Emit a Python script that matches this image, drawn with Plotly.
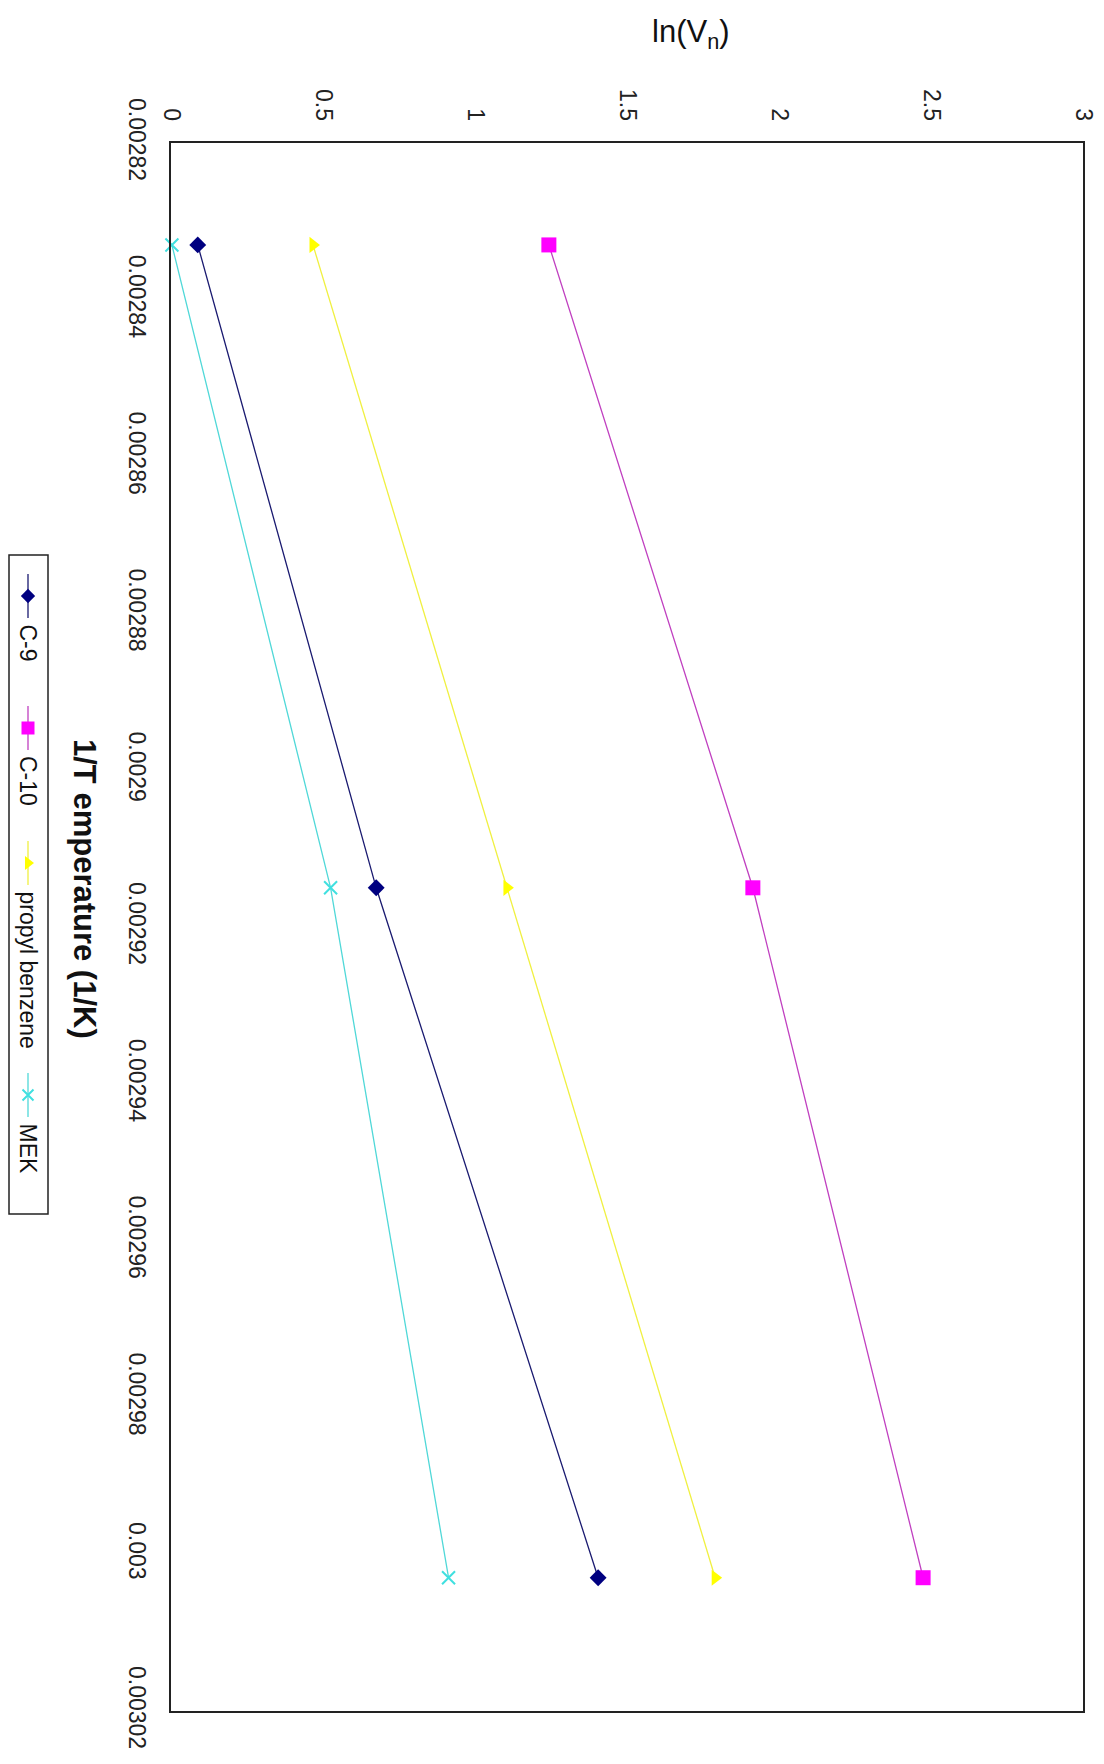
import plotly.graph_objects as go

# ---- data: ln of net retention volume vs reciprocal column temperature ----
INV_T = [0.002833, 0.002915, 0.003003]          # 1/T (1/K)
C9 = [0.088, 0.675, 1.405]
C10 = [1.243, 1.914, 2.474]
PROPYL_BENZENE = [0.467, 1.105, 1.790]
MEK = [0.003, 0.525, 0.913]

SERIES_NAMES = ["C-9", "C-10", "propyl benzene", "MEK"]
SERIES_VALUES = [C9, C10, PROPYL_BENZENE, MEK]
SERIES_COLORS = ["#000080", "#FF00FF", "#FFFF00", "#40E0E0"]
LINE_COLORS = ["#1a1a70", "#C040C0", "#F0F040", "#50D8D8"]
SERIES_SYMBOLS = ["diamond", "square", "triangle-right", "x-thin-open"]
SERIES_SIZES = [13, 15, 14, 13]

LNV_TICKS = [0, 0.5, 1, 1.5, 2, 2.5, 3]
LNV_LABELS = ["0", "0.5", "1", "1.5", "2", "2.5", "3"]
INVT_TICKS = [0.00282, 0.00284, 0.00286, 0.00288, 0.0029, 0.00292,
              0.00294, 0.00296, 0.00298, 0.003, 0.00302]
INVT_LABELS = ["0.00282", "0.00284", "0.00286", "0.00288", "0.0029", "0.00292",
               "0.00294", "0.00296", "0.00298", "0.003", "0.00302"]

W, H = 1104, 1764
FONT = "Liberation Sans, Arial, sans-serif"

# plot area in pixels (the page is drawn turned a quarter turn)
PL, PR, PT, PB = 171, 1083, 143, 1711


def px_x(p):
    return p / W


def px_y(p):
    return 1 - p / H


fig = go.Figure()

for name, vals, col, lcol, sym, size in zip(SERIES_NAMES, SERIES_VALUES, SERIES_COLORS,
                                            LINE_COLORS, SERIES_SYMBOLS, SERIES_SIZES):
    fig.add_trace(go.Scatter(
        x=vals, y=INV_T, mode="lines+markers", name=name,
        line=dict(color=lcol, width=1.3),
        marker=dict(symbol=sym, size=size, color=col,
                    line=dict(color=col, width=2 if sym.startswith("x") else 0)),
        showlegend=False, cliponaxis=False,
    ))

# ---- hand-built legend, turned to match the page orientation ----
LEG_X = 28
LEG_BOX = (9, 555, 48, 1214)
LEG_START = [574, 706, 841, 1073]
LEG_LINE = 44

for name, col, lcol, sym, size, y0 in zip(SERIES_NAMES, SERIES_COLORS, LINE_COLORS,
                                          SERIES_SYMBOLS, SERIES_SIZES, LEG_START):
    fig.add_trace(go.Scatter(
        x=[LEG_X, LEG_X], y=[y0, y0 + LEG_LINE], mode="lines",
        line=dict(color=lcol, width=1.3), xaxis="x2", yaxis="y2",
        showlegend=False, hoverinfo="skip",
    ))
    fig.add_trace(go.Scatter(
        x=[LEG_X], y=[y0 + LEG_LINE / 2], mode="markers",
        marker=dict(symbol=sym, size=size - 2, color=col,
                    line=dict(color=col, width=2 if sym.startswith("x") else 0)),
        xaxis="x2", yaxis="y2", showlegend=False, hoverinfo="skip",
    ))
    fig.add_annotation(
        text=name, x=px_x(LEG_X), y=px_y(y0 + LEG_LINE + 4),
        xref="paper", yref="paper", xanchor="center", yanchor="top",
        textangle=90, showarrow=False,
        font=dict(family=FONT, size=23, color="#111"),
    )

fig.add_shape(type="rect", xref="paper", yref="paper",
              x0=px_x(LEG_BOX[0]), x1=px_x(LEG_BOX[2]),
              y0=px_y(LEG_BOX[1]), y1=px_y(LEG_BOX[3]),
              line=dict(color="#222", width=1.5))

# ---- axis titles ----
fig.add_annotation(
    text="ln(V<sub>n</sub>)", x=px_x(691), y=px_y(34), xref="paper", yref="paper",
    xanchor="center", yanchor="middle", showarrow=False,
    font=dict(family=FONT, size=31, color="#111"),
)
fig.add_annotation(
    text="<b>1/T emperature (1/K)</b>", x=px_x(85), y=px_y(889),
    xref="paper", yref="paper", xanchor="center", yanchor="middle",
    textangle=90, showarrow=False,
    font=dict(family=FONT, size=31, color="#111"),
)

fig.update_layout(
    width=W, height=H,
    margin=dict(l=0, r=0, t=0, b=0, autoexpand=False),
    paper_bgcolor="white", plot_bgcolor="rgba(0,0,0,0)",
    xaxis=dict(
        domain=[PL / W, PR / W], range=[0, 3], side="top", automargin=False,
        tickvals=LNV_TICKS, ticktext=LNV_LABELS, tickangle=90,
        tickfont=dict(family=FONT, size=23, color="#222"),
        ticks="", ticklabelstandoff=12,
        showgrid=False, zeroline=False,
        showline=True, linecolor="#222", linewidth=2, mirror=True,
    ),
    yaxis=dict(
        domain=[1 - PB / H, 1 - PT / H], range=[0.00302, 0.00282], automargin=False,
        tickvals=INVT_TICKS, ticktext=INVT_LABELS, tickangle=90,
        tickfont=dict(family=FONT, size=23, color="#222"),
        ticks="", ticklabelstandoff=12,
        showgrid=False, zeroline=False,
        showline=True, linecolor="#222", linewidth=2, mirror=True,
    ),
    xaxis2=dict(domain=[0, 1], range=[0, W], visible=False, anchor="y2", automargin=False),
    yaxis2=dict(domain=[0, 1], range=[H, 0], visible=False, anchor="x2", automargin=False),
)

fig.write_html("out.html")
